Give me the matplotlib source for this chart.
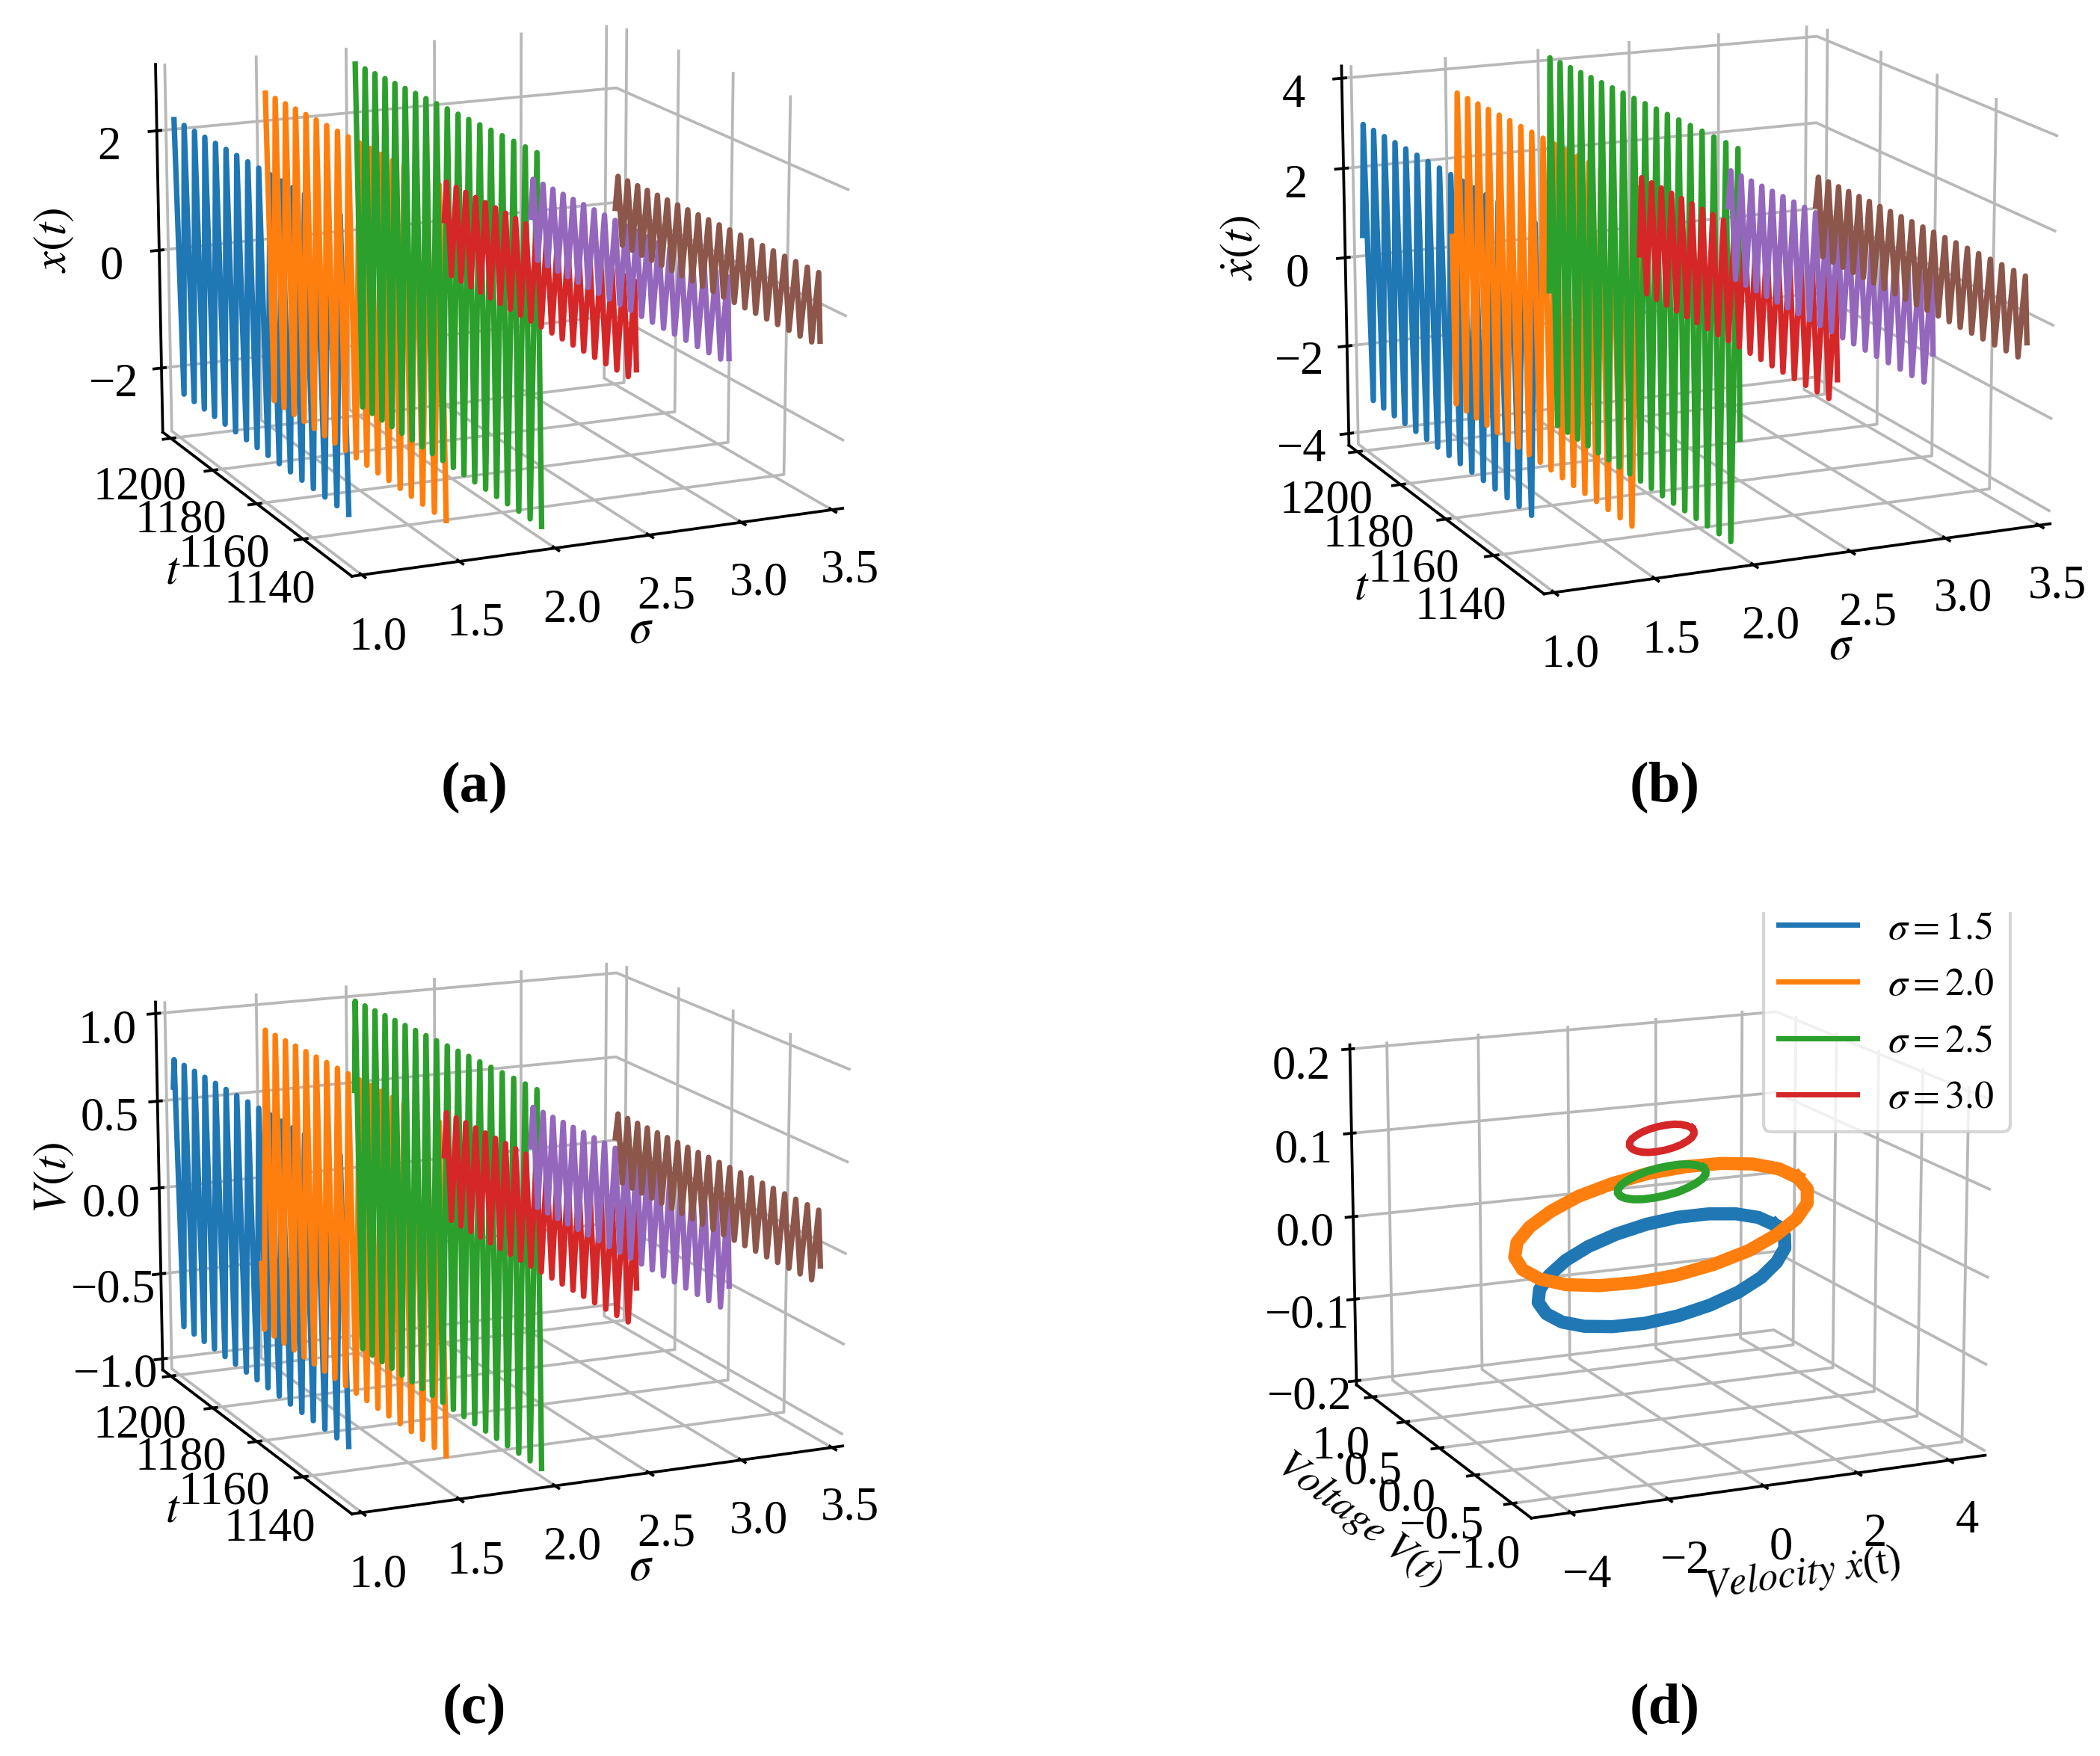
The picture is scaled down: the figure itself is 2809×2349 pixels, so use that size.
import matplotlib
matplotlib.use('Agg')
import matplotlib.pyplot as plt
from matplotlib.patches import Rectangle

plt.rcParams['font.family'] = ['Liberation Serif', 'DejaVu Serif']
plt.rcParams['mathtext.fontset'] = 'stix'
plt.rcParams['font.size'] = 15

colors = ['#1f77b4', '#ff7f0e', '#2ca02c', '#d62728', '#9467bd', '#8c564b']
sigmas = [1.0, 1.5, 2.0, 2.5, 3.0, 3.5]

# turning points of the curves, t goes from far end to near end
t1 = [1200, 1197.6, 1195.2, 1192.7, 1190.3, 1187.9, 1185.5, 1183.1, 1180.6, 1178.2, 1175.8, 1173.4, 1171.0, 1168.5, 1166.1, 1163.7, 1161.3, 1158.9, 1156.4, 1154.0, 1151.6, 1149.2, 1146.8, 1144.3, 1141.9, 1139.5, 1137.1, 1134.7, 1132.2, 1129.8, 1127.4, 1125.0]
t2 = [1200, 1197.7, 1195.5, 1193.2, 1190.9, 1188.6, 1186.4, 1184.1, 1181.8, 1179.6, 1177.3, 1175.0, 1172.8, 1170.5, 1168.2, 1165.9, 1163.7, 1161.4, 1159.1, 1156.9, 1154.6, 1152.3, 1150.1, 1147.8, 1145.5, 1143.2, 1141.0, 1138.7, 1136.4, 1134.2, 1131.9, 1129.6, 1127.3, 1125.0]
t3 = [1200, 1197.9, 1195.7, 1193.6, 1191.4, 1189.3, 1187.1, 1185.0, 1182.9, 1180.7, 1178.6, 1176.4, 1174.3, 1172.1, 1170.0, 1167.9, 1165.7, 1163.6, 1161.4, 1159.3, 1157.1, 1155.0, 1152.9, 1150.7, 1148.6, 1146.4, 1144.3, 1142.1, 1140.0, 1137.9, 1135.7, 1133.6, 1131.4, 1129.3, 1127.1, 1125.0]
t4 = [1200, 1199, 1197, 1194.9, 1192.9, 1190.9, 1188.8, 1186.8, 1184.8, 1182.8, 1180.7, 1178.7, 1176.7, 1174.6, 1172.6, 1170.6, 1168.5, 1166.5, 1164.5, 1162.4, 1160.4, 1158.4, 1156.3, 1154.3, 1152.3, 1150.3, 1148.2, 1146.2, 1144.2, 1142.1, 1140.1, 1138.1, 1136.0, 1134, 1132, 1129.9, 1127.9, 1125.9, 1125]
t6 = [1200, 1199, 1197.1, 1195.2, 1193.2, 1191.3, 1189.4, 1187.5, 1185.5, 1183.6, 1181.7, 1179.8, 1177.8, 1175.9, 1174, 1172.1, 1170.1, 1168.2, 1166.3, 1164.4, 1162.4, 1160.5, 1158.6, 1156.7, 1154.7, 1152.8, 1150.9, 1149, 1147.1, 1145.1, 1143.2, 1141.3, 1139.4, 1137.4, 1135.5, 1133.6, 1131.7, 1129.7, 1127.8, 1125.9, 1125]
tb1 = [1200, 1198.8, 1196.4, 1194.0, 1191.6, 1189.1, 1186.7, 1184.3, 1181.9, 1179.5, 1177.0, 1174.6, 1172.2, 1169.8, 1167.4, 1164.9, 1162.5, 1160.1, 1157.7, 1155.3, 1152.8, 1150.4, 1148.0, 1145.6, 1143.2, 1140.7, 1138.3, 1135.9, 1133.5, 1131.1, 1128.6, 1126.2, 1125]
tb2 = [1202.0, 1201.2, 1198.9, 1196.6, 1194.3, 1192.1, 1189.8, 1187.5, 1185.3, 1183.0, 1180.7, 1178.4, 1176.2, 1173.9, 1171.6, 1169.4, 1167.1, 1164.8, 1162.5, 1160.3, 1158, 1155.7, 1153.5, 1151.2, 1148.9, 1146.7, 1144.4, 1142.1, 1139.8, 1137.6, 1135.3, 1133, 1130.8, 1128.5, 1126.2, 1125]
tb3 = [1200, 1198.9, 1196.8, 1194.6, 1192.5, 1190.3, 1188.2, 1186, 1183.9, 1181.8, 1179.6, 1177.5, 1175.3, 1173.2, 1171, 1168.9, 1166.8, 1164.6, 1162.5, 1160.3, 1158.2, 1156, 1153.9, 1151.8, 1149.6, 1147.5, 1145.3, 1143.2, 1141, 1138.9, 1136.8, 1134.6, 1132.5, 1130.3, 1128.2, 1126, 1125]
tc1 = [1200.6] + t1
tc2 = [1203.2, 1202.3] + t2
tc3 = [1200.6] + t3

# panel (a) displacement
xa1 = [2.25, -2.3, 2.25, -2.3, 2.25, -2.3, 2.25, -2.3, 2.25, -2.3, 2.25, -2.3, 2.25, -2.3, 2.25, -2.3, 2.25, -2.3, 2.25, -2.3, 2.25, -2.3, 2.25, -2.3, 2.25, -2.3, 2.25, -2.3, 2.25, -2.3, 2.25, -2.3]
xa2 = [2.55, -2.6, 2.55, -2.6, 2.55, -2.6, 2.55, -2.6, 2.55, -2.6, 2.55, -2.6, 2.55, -2.6, 2.55, -2.6, 2.55, -2.6, 2.55, -2.6, 2.55, -2.6, 2.55, -2.6, 2.55, -2.6, 2.55, -2.6, 2.55, -2.6, 2.55, -2.6, 2.55, -2.6]
xa3 = [2.9, -2.9, 2.9, -2.9, 2.9, -2.9, 2.9, -2.9, 2.9, -2.9, 2.9, -2.9, 2.9, -2.9, 2.9, -2.9, 2.9, -2.9, 2.9, -2.9, 2.9, -2.9, 2.9, -2.9, 2.9, -2.9, 2.9, -2.9, 2.9, -2.9, 2.9, -2.9, 2.9, -2.9, 2.9, -2.9]
xa4 = [0.1, 0.78, -0.78, 0.78, -0.78, 0.78, -0.78, 0.78, -0.78, 0.78, -0.78, 0.78, -0.78, 0.78, -0.78, 0.78, -0.78, 0.78, -0.78, 0.78, -0.78, 0.78, -0.78, 0.78, -0.78, 0.78, -0.78, 0.78, -0.78, 0.78, -0.78, 0.78, -0.78, 0.78, -0.78, 0.78, -0.78, 0.78, -0.6]
xa5 = [0.0, 0.68, -0.68, 0.68, -0.68, 0.68, -0.68, 0.68, -0.68, 0.68, -0.68, 0.68, -0.68, 0.68, -0.68, 0.68, -0.68, 0.68, -0.68, 0.68, -0.68, 0.68, -0.68, 0.68, -0.68, 0.68, -0.68, 0.68, -0.68, 0.68, -0.68, 0.68, -0.68, 0.68, -0.68, 0.68, -0.68, 0.68, -0.6]
xa6 = [0.0, 0.58, -0.58, 0.58, -0.58, 0.58, -0.58, 0.58, -0.58, 0.58, -0.58, 0.58, -0.58, 0.58, -0.58, 0.58, -0.58, 0.58, -0.58, 0.58, -0.58, 0.58, -0.58, 0.58, -0.58, 0.58, -0.58, 0.58, -0.58, 0.58, -0.58, 0.58, -0.58, 0.58, -0.58, 0.58, -0.58, 0.58, -0.58, 0.58, -0.5]

# panel (b) velocity
vb1 = [0.6, 3.1, -3.0, 3.1, -3.0, 3.1, -3.0, 3.1, -3.0, 3.1, -3.0, 3.1, -3.0, 3.1, -3.0, 3.1, -3.0, 3.1, -3.0, 3.1, -3.0, 3.1, -3.0, 3.1, -3.0, 3.1, -3.0, 3.1, -3.0, 3.1, -3.0, 3.1, -1.2]
vb2 = [0.3, -3.5, 3.6, -3.5, 3.6, -3.5, 3.6, -3.5, 3.6, -3.5, 3.6, -3.5, 3.6, -3.5, 3.6, -3.5, 3.6, -3.5, 3.6, -3.5, 3.6, -3.5, 3.6, -3.5, 3.6, -3.5, 3.6, -3.5, 3.6, -3.5, 3.6, -3.5, 3.6, -3.5, 3.6, -1.5]
vb3 = [-1.1, 4.2, -4.1, 4.2, -4.1, 4.2, -4.1, 4.2, -4.1, 4.2, -4.1, 4.2, -4.1, 4.2, -4.1, 4.2, -4.1, 4.2, -4.1, 4.2, -4.1, 4.2, -4.1, 4.2, -4.1, 4.2, -4.1, 4.2, -4.1, 4.2, -4.1, 4.2, -4.1, 4.2, -4.1, 4.2, -1.8]
vb4 = [-0.5, 1.3, -1.3, 1.3, -1.3, 1.3, -1.3, 1.3, -1.3, 1.3, -1.3, 1.3, -1.3, 1.3, -1.3, 1.3, -1.3, 1.3, -1.3, 1.3, -1.3, 1.3, -1.3, 1.3, -1.3, 1.3, -1.3, 1.3, -1.3, 1.3, -1.3, 1.3, -1.3, 1.3, -1.3, 1.3, -1.3, 1.3, -0.8]
vb5 = [0.4, 1.25, -1.2, 1.25, -1.2, 1.25, -1.2, 1.25, -1.2, 1.25, -1.2, 1.25, -1.2, 1.25, -1.2, 1.25, -1.2, 1.25, -1.2, 1.25, -1.2, 1.25, -1.2, 1.25, -1.2, 1.25, -1.2, 1.25, -1.2, 1.25, -1.2, 1.25, -1.2, 1.25, -1.2, 1.25, -1.2, 1.25, -0.5]
vb6 = [0.2, 0.9, -0.9, 0.9, -0.9, 0.9, -0.9, 0.9, -0.9, 0.9, -0.9, 0.9, -0.9, 0.9, -0.9, 0.9, -0.9, 0.9, -0.9, 0.9, -0.9, 0.9, -0.9, 0.9, -0.9, 0.9, -0.9, 0.9, -0.9, 0.9, -0.9, 0.9, -0.9, 0.9, -0.9, 0.9, -0.9, 0.9, -0.9, 0.9, -0.5]

# panel (c) voltage
uc1 = [0.6, 0.76, -0.76, 0.76, -0.76, 0.76, -0.76, 0.76, -0.76, 0.76, -0.76, 0.76, -0.76, 0.76, -0.76, 0.76, -0.76, 0.76, -0.76, 0.76, -0.76, 0.76, -0.76, 0.76, -0.76, 0.76, -0.76, 0.76, -0.76, 0.76, -0.76, 0.76, -0.76]
uc2 = [-0.5, -0.88, 0.88, -0.88, 0.88, -0.88, 0.88, -0.88, 0.88, -0.88, 0.88, -0.88, 0.88, -0.88, 0.88, -0.88, 0.88, -0.88, 0.88, -0.88, 0.88, -0.88, 0.88, -0.88, 0.88, -0.88, 0.88, -0.88, 0.88, -0.88, 0.88, -0.88, 0.88, -0.88, 0.88, -0.88]
uc3 = [0.48, 1.0, -1.02, 1.0, -1.02, 1.0, -1.02, 1.0, -1.02, 1.0, -1.02, 1.0, -1.02, 1.0, -1.02, 1.0, -1.02, 1.0, -1.02, 1.0, -1.02, 1.0, -1.02, 1.0, -1.02, 1.0, -1.02, 1.0, -1.02, 1.0, -1.02, 1.0, -1.02, 1.0, -1.02, 1.0, -1.02]
uc4 = [0.05, 0.31, -0.31, 0.31, -0.31, 0.31, -0.31, 0.31, -0.31, 0.31, -0.31, 0.31, -0.31, 0.31, -0.31, 0.31, -0.31, 0.31, -0.31, 0.31, -0.31, 0.31, -0.31, 0.31, -0.31, 0.31, -0.31, 0.31, -0.31, 0.31, -0.31, 0.31, -0.31, 0.31, -0.31, 0.31, -0.31, 0.31, -0.1]
uc5 = [0.05, 0.29, -0.29, 0.29, -0.29, 0.29, -0.29, 0.29, -0.29, 0.29, -0.29, 0.29, -0.29, 0.29, -0.29, 0.29, -0.29, 0.29, -0.29, 0.29, -0.29, 0.29, -0.29, 0.29, -0.29, 0.29, -0.29, 0.29, -0.29, 0.29, -0.29, 0.29, -0.29, 0.29, -0.29, 0.29, -0.29, 0.29, -0.15]
uc6 = [0.05, 0.2, -0.2, 0.2, -0.2, 0.2, -0.2, 0.2, -0.2, 0.2, -0.2, 0.2, -0.2, 0.2, -0.2, 0.2, -0.2, 0.2, -0.2, 0.2, -0.2, 0.2, -0.2, 0.2, -0.2, 0.2, -0.2, 0.2, -0.2, 0.2, -0.2, 0.2, -0.2, 0.2, -0.2, 0.2, -0.2, 0.2, -0.2, 0.2, -0.1]

# panel (d) loops
loop_labels = ['$\\sigma = 1.5$', '$\\sigma = 2.0$', '$\\sigma = 2.5$', '$\\sigma = 3.0$']
v15 = [2.5, 2.42, 2.17, 1.77, 1.25, 0.65, 0, -0.65, -1.25, -1.77, -2.17, -2.42, -2.5, -2.42, -2.17, -1.77, -1.25, -0.65, 0, 0.65, 1.25, 1.77, 2.17, 2.42, 2.5]
u15 = [0, 0.16, 0.3, 0.42, 0.52, 0.58, 0.6, 0.58, 0.52, 0.42, 0.3, 0.16, 0, -0.16, -0.3, -0.42, -0.52, -0.58, -0.6, -0.58, -0.52, -0.42, -0.3, -0.16, 0]
z15 = [0.0105, 0.0118, 0.0105, 0.0068, 0.0007, -0.0072, -0.0165, -0.0264, -0.0363, -0.0456, -0.0535, -0.0596, -0.0635, -0.0648, -0.0635, -0.0598, -0.0537, -0.0458, -0.0365, -0.0266, -0.0167, -0.0074, 0.0005, 0.0066, 0.0105]
v20 = [3.0, 2.9, 2.6, 2.12, 1.5, 0.78, 0, -0.78, -1.5, -2.12, -2.6, -2.9, -3.0, -2.9, -2.6, -2.12, -1.5, -0.78, 0, 0.78, 1.5, 2.12, 2.6, 2.9, 3.0]
u20 = [0, 0.17, 0.33, 0.46, 0.56, 0.63, 0.65, 0.63, 0.56, 0.46, 0.33, 0.17, 0, -0.17, -0.33, -0.46, -0.56, -0.63, -0.65, -0.63, -0.56, -0.46, -0.33, -0.17, 0]
z20 = [0.0639, 0.0664, 0.0662, 0.0634, 0.0582, 0.0508, 0.0419, 0.032, 0.0218, 0.012, 0.0032, -0.004, -0.0089, -0.0114, -0.0112, -0.0084, -0.0032, 0.0042, 0.0131, 0.023, 0.0332, 0.043, 0.0518, 0.059, 0.0639]
v25 = [0.9, 0.87, 0.78, 0.64, 0.45, 0.23, 0, -0.23, -0.45, -0.64, -0.78, -0.87, -0.9, -0.87, -0.78, -0.64, -0.45, -0.23, 0, 0.23, 0.45, 0.64, 0.78, 0.87, 0.9]
u25 = [0, 0.05, 0.1, 0.14, 0.17, 0.19, 0.2, 0.19, 0.17, 0.14, 0.1, 0.05, 0, -0.05, -0.1, -0.14, -0.17, -0.19, -0.2, -0.19, -0.17, -0.14, -0.1, -0.05, 0]
z25 = [0.0871, 0.0873, 0.0867, 0.0854, 0.0833, 0.0807, 0.0778, 0.0747, 0.0717, 0.0689, 0.0667, 0.0649, 0.0639, 0.0637, 0.0643, 0.0657, 0.0677, 0.0703, 0.0732, 0.0763, 0.0793, 0.0821, 0.0843, 0.0861, 0.0871]
v30 = [0.65, 0.63, 0.56, 0.46, 0.33, 0.17, 0, -0.17, -0.33, -0.46, -0.56, -0.63, -0.65, -0.63, -0.56, -0.46, -0.33, -0.17, 0, 0.17, 0.33, 0.46, 0.56, 0.63, 0.65]
u30 = [0, 0.04, 0.08, 0.11, 0.13, 0.145, 0.15, 0.145, 0.13, 0.11, 0.08, 0.04, 0, -0.04, -0.08, -0.11, -0.13, -0.145, -0.15, -0.145, -0.13, -0.11, -0.08, -0.04, 0]
z30 = [0.1345, 0.1352, 0.1353, 0.1348, 0.1337, 0.132, 0.1299, 0.1276, 0.1251, 0.1228, 0.1206, 0.1188, 0.1175, 0.1168, 0.1166, 0.1172, 0.1183, 0.12, 0.1221, 0.1244, 0.1269, 0.1292, 0.1314, 0.1332, 0.1345]

fig = plt.figure(figsize=(2809 / 300, 2349 / 300), dpi=300)
ELEV = 14.5
AZIM = -114


def style(ax):
    ax.view_init(elev=ELEV, azim=AZIM)
    for axis in (ax.xaxis, ax.yaxis, ax.zaxis):
        axis.set_pane_color((1, 1, 1, 1))
        axis.pane.set_edgecolor('white')
        axis.line.set_linewidth(0.9)
        axis._axinfo['grid']['color'] = '#b8b8b8'
        axis._axinfo['grid']['linewidth'] = 0.9
        axis._axinfo['tick']['linewidth'] = {True: 0.9, False: 0.5}
    ax.tick_params(axis='x', pad=2)
    ax.tick_params(axis='y', pad=1)
    ax.tick_params(axis='z', pad=2)
    ax.patch.set_alpha(0)


def panel(rect, curves, zticks, zlim, zlabel):
    ax = fig.add_axes(rect, projection='3d')
    style(ax)
    for sig, t, vals, c in zip(sigmas, curves[0], curves[1], colors):
        ax.plot([sig] * len(t), t, vals, color=c, lw=1.75, solid_joinstyle='round')
    ax.set_xlim(0.95, 3.56)
    ax.set_ylim(1120, 1204)
    ax.set_zlim(*zlim)
    ax.set_xticks(sigmas)
    ax.set_yticks([1140, 1160, 1180, 1200])
    ax.set_zticks(zticks)
    ax.set_xlabel('$\\sigma$', labelpad=1)
    ax.set_ylabel('$t$', labelpad=1)
    ax.zaxis.set_rotate_label(False)
    ax.set_zlabel(zlabel, labelpad=1, rotation=90)
    return ax


panel([0.037, 0.6025, 0.385, 0.461], ([t1, t2, t3, t4, t4, t6], [xa1, xa2, xa3, xa4, xa5, xa6]),
      [-2, 0, 2], (-3.1, 3.1), '$x(t)$')
panel([0.6006, 0.5905, 0.397, 0.475], ([tb1, tb2, tb3, t4, t4, t6], [vb1, vb2, vb3, vb4, vb5, vb6]),
      [-4, -2, 0, 2, 4], (-4.27, 4.27), '$\\dot{x}(t)$')
panel([0.037, 0.0685, 0.385, 0.461], ([tc1, tc2, tc3, t4, t4, t6], [uc1, uc2, uc3, uc4, uc5, uc6]),
      [-1.0, -0.5, 0.0, 0.5, 1.0], (-1.065, 1.065), '$V(t)$')

axd = fig.add_axes([0.6085, 0.071, 0.356, 0.427], projection='3d')
style(axd)
axd.plot(v15, u15, z15, color=colors[0], lw=4.2, label=loop_labels[0], solid_joinstyle='round')
axd.plot(v20, u20, z20, color=colors[1], lw=4.2, label=loop_labels[1], solid_joinstyle='round')
axd.plot(v25, u25, z25, color=colors[2], lw=2.6, label=loop_labels[2], solid_joinstyle='round')
axd.plot(v30, u30, z30, color=colors[3], lw=2.4, label=loop_labels[3], solid_joinstyle='round')
axd.set_xlim(-4.8, 4.8)
axd.set_ylim(-1.25, 1.25)
axd.set_zlim(-0.205, 0.205)
axd.set_xticks([-4, -2, 0, 2, 4])
axd.set_yticks([-1.0, -0.5, 0.0, 0.5, 1.0])
axd.set_zticks([-0.2, -0.1, 0.0, 0.1, 0.2])
axd.set_xlabel('$\\mathit{Velocity}\\ \\dot{x}$(t)', labelpad=1, fontsize=13)
axd.set_ylabel('$\\mathit{Voltage}\\ V(t)$', labelpad=1, fontsize=13)

handles, labels = axd.get_legend_handles_labels()
leg = fig.legend(handles, labels, loc='upper left', bbox_to_anchor=(1302 / 1568, 1 - 654 / 1311),
                 fontsize=12.5, frameon=True, framealpha=0.8, labelspacing=0.53)
for line in leg.get_lines():
    line.set_linewidth(1.7)

# the legend frame is cut off at its top in the source
fig.add_artist(Rectangle((0.8, 1 - 681 / 1311), 0.2, 35 / 1311, transform=fig.transFigure,
                         facecolor='white', edgecolor='none', zorder=10))

for x, y, s in [(354, 588, '(a)'), (1243, 588, '(b)'), (354, 1276, '(c)'), (1243, 1276, '(d)')]:
    fig.text(x / 1568, 1 - y / 1311, s, fontsize=18.5, fontweight='bold', ha='center', va='center')

fig.savefig('out.png', dpi=300, facecolor='white')
